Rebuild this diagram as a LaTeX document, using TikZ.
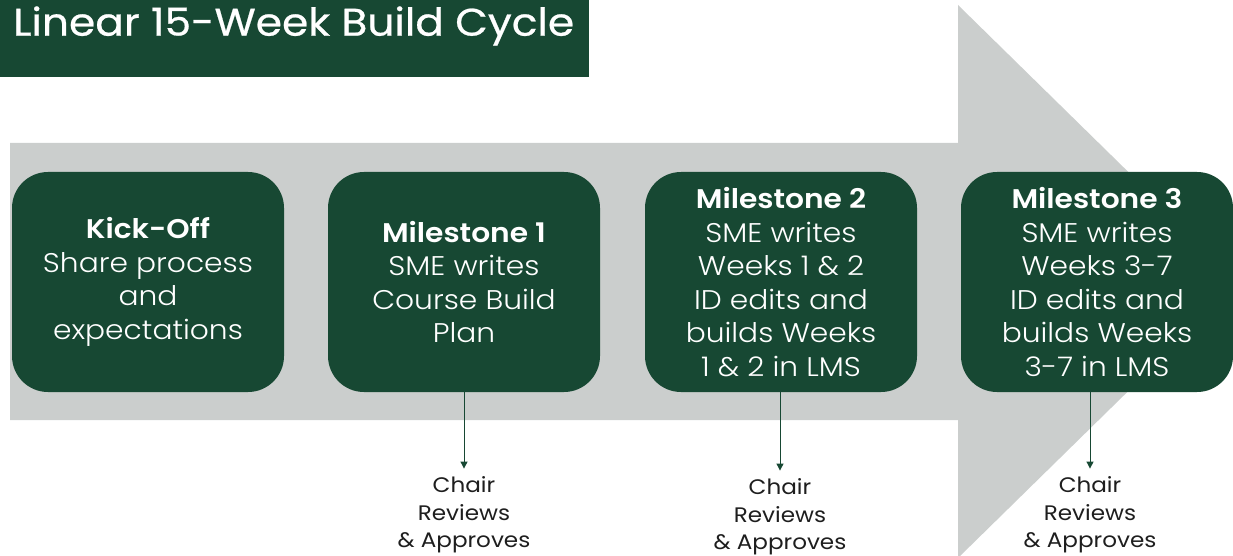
\documentclass[tikz,border=0pt]{standalone}
\usepackage{fontspec}
\setmainfont{Poppins}[FakeStretch=1.1]
\newfontfamily\bannerfont{Poppins}[FakeStretch=1.1, FakeBold=0.6]
\newfontfamily\stagefont{Poppins Light}[FakeStretch=1.1, BoldFont={Poppins SemiBold}]
\usetikzlibrary{arrows.meta}
\definecolor{pine}{RGB}{23,72,51}
\definecolor{band}{RGB}{203,206,205}
\definecolor{ink}{RGB}{30,30,30}
\begin{document}
\begin{tikzpicture}[x=1pt,y=-1pt,
  stage/.style={fill=pine, rounded corners=36pt, minimum width=272pt,
    minimum height=220pt, text=white, align=center, inner sep=0pt,
    font=\stagefont\fontsize{27}{33.5}\selectfont},
  review/.style={text=ink, align=center, inner sep=0pt,
    font=\fontsize{21}{27.5}\selectfont},
  link/.style={draw=pine, line width=1pt, shorten >=8pt,
    -{Triangle[width=7pt,length=7pt]}}]
\useasboundingbox (0,0) rectangle (1233,556);
\clip (0,0) rectangle (1233,556);
% timeline arrow
\fill[band] (10,143) -- (958,143) -- (958,5) -- (1240,281.5) -- (958,558)
  -- (958,420) -- (10,420) -- cycle;
% title banner
\fill[pine] (0,0) rectangle (589,77);
\node[anchor=west, text=white, inner sep=0pt,
  font=\bannerfont\fontsize{38.5}{40}\selectfont] (title) at (13,26) {Linear 15-Week Build Cycle};
% stages
\node[stage] (kick) at (148,282) {\textbf{Kick-Off}\\Share process\\and\\expectations};
\node[stage] (m1) at (464,282) {\textbf{Milestone 1}\\SME writes\\Course Build\\Plan};
\node[stage] (m2) at (781,282) {\textbf{Milestone 2}\\SME writes\\Weeks 1 \& 2\\ID edits and\\builds Weeks\\1 \& 2 in LMS};
\node[stage] (m3) at (1097,282) {\textbf{Milestone 3}\\SME writes\\Weeks 3-7\\ID edits and\\builds Weeks\\3-7 in LMS};
% reviews
\node[review] (r1) at (464,515) {Chair\\Reviews\\\& Approves};
\node[review] (r2) at (780,517) {Chair\\Reviews\\\& Approves};
\node[review] (r3) at (1090,515) {Chair\\Reviews\\\& Approves};
\draw[link] (m1.south) -- (r1.north);
\draw[link] (r2.north |- m2.south) -- (r2.north);
\draw[link] (r3.north |- m3.south) -- (r3.north);
\end{tikzpicture}
\end{document}
